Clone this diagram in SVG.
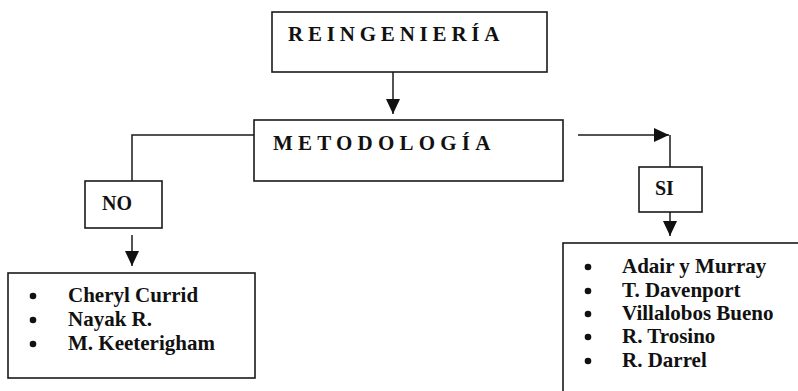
<svg xmlns="http://www.w3.org/2000/svg" width="798" height="391" viewBox="0 0 798 391">
  <style>
    .box { fill: #fff; stroke: #1a1a1a; stroke-width: 1.6; }
    .wire { fill: none; stroke: #1a1a1a; stroke-width: 1.5; }
    .title { font-family: "Liberation Serif", "Times New Roman", serif; font-weight: bold; font-size: 21px; fill: #111; }
    .label { font-family: "Liberation Serif", "Times New Roman", serif; font-weight: bold; font-size: 20px; fill: #111; }
    .item { font-family: "Liberation Serif", "Times New Roman", serif; font-weight: bold; font-size: 21px; fill: #111; }
    .dot { fill: #111; }
  </style>
  <defs>
    <marker id="head" markerUnits="userSpaceOnUse" markerWidth="16" markerHeight="16" viewBox="0 0 16 16" refX="15" refY="8" orient="auto">
      <path d="M0,1 L15,8 L0,15 Z" fill="#111"/>
    </marker>
  </defs>

  <rect width="798" height="391" fill="#fff"/>

  <g id="connectors">
    <!-- REINGENIERÍA to METODOLOGÍA -->
    <line class="wire" x1="393" y1="72" x2="393" y2="114" marker-end="url(#head)"/>
    <!-- METODOLOGÍA to NO -->
    <polyline class="wire" points="254,135 132,135 132,181"/>
    <!-- NO to its list -->
    <line class="wire" x1="132" y1="235" x2="132" y2="266" marker-end="url(#head)"/>
    <!-- METODOLOGÍA to SI -->
    <line class="wire" x1="578" y1="135" x2="669" y2="135" marker-end="url(#head)"/>
    <line class="wire" x1="670" y1="135" x2="670" y2="167"/>
    <!-- SI to its list -->
    <line class="wire" x1="670" y1="207" x2="670" y2="236" marker-end="url(#head)"/>
  </g>

  <g id="reingenieria">
    <rect class="box" x="272" y="12" width="275" height="60"/>
    <text class="title" x="288" y="41" letter-spacing="4.8">REINGENIERÍA</text>
  </g>

  <g id="metodologia">
    <rect class="box" x="254" y="120" width="309" height="61"/>
    <text class="title" x="273" y="150" letter-spacing="5.2">METODOLOGÍA</text>
  </g>

  <g id="no">
    <rect class="box" x="85" y="181" width="77" height="47"/>
    <text class="label" x="102" y="210">NO</text>
  </g>

  <g id="si">
    <rect class="box" x="639" y="167" width="63" height="45"/>
    <text class="label" x="655" y="195">SI</text>
  </g>

  <g id="no-list">
    <rect class="box" x="8" y="273" width="247" height="105"/>
    <circle class="dot" cx="33" cy="296" r="3.3"/>
    <circle class="dot" cx="33" cy="320" r="3.3"/>
    <circle class="dot" cx="33" cy="344" r="3.3"/>
    <text class="item" x="68" y="302">Cheryl Currid</text>
    <text class="item" x="68" y="326">Nayak R.</text>
    <text class="item" x="68" y="350">M. Keeterigham</text>
  </g>

  <g id="si-list">
    <rect class="box" x="563" y="243" width="260" height="170"/>
    <circle class="dot" cx="588" cy="267" r="3.3"/>
    <circle class="dot" cx="588" cy="291" r="3.3"/>
    <circle class="dot" cx="588" cy="314" r="3.3"/>
    <circle class="dot" cx="588" cy="337" r="3.3"/>
    <circle class="dot" cx="588" cy="361" r="3.3"/>
    <text class="item" x="622" y="273">Adair y Murray</text>
    <text class="item" x="622" y="297">T. Davenport</text>
    <text class="item" x="622" y="320">Villalobos Bueno</text>
    <text class="item" x="622" y="343">R. Trosino</text>
    <text class="item" x="622" y="367">R. Darrel</text>
  </g>
</svg>
